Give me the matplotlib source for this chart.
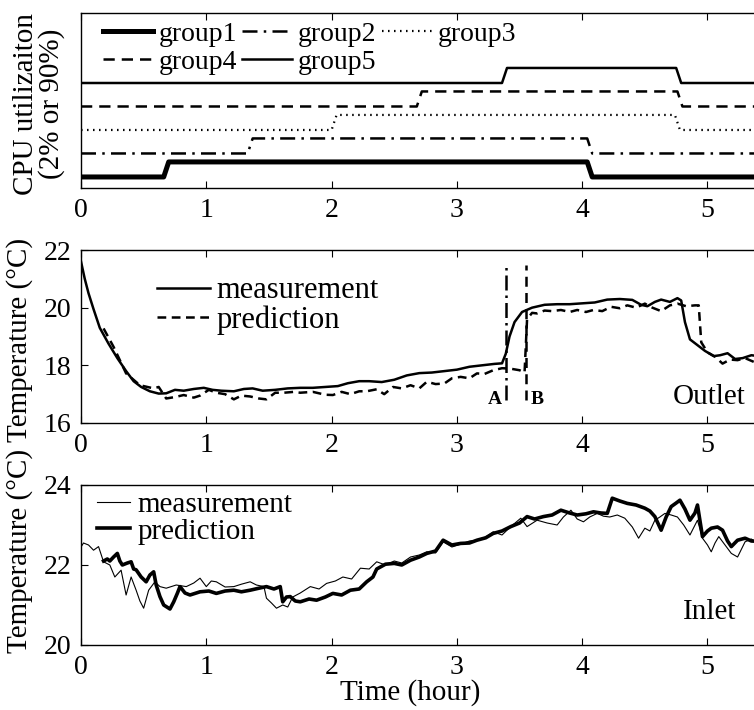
import matplotlib
matplotlib.use("Agg")
import matplotlib.pyplot as plt
import numpy as np

plt.rcParams['font.family'] = ['Liberation Serif', 'DejaVu Serif']
plt.rcParams['font.size'] = 20
plt.rcParams['mathtext.fontset'] = 'stix'

# ---------------- data ----------------
groups = ["group1", "group2", "group3", "group4", "group5"]
util_low = 2
util_high = 90
t_up = [0.66, 1.33, 2.00, 2.68, 3.36]
t_down = [4.04, 4.04, 4.74, 4.76, 4.75]
hour_ticks = [0, 1, 2, 3, 4, 5]

outlet_meas = [(0, 21.6), (0.03, 21.0), (0.06, 20.5), (0.10, 19.95), (0.15, 19.3), (0.22, 18.75),
               (0.29, 18.25), (0.36, 17.8), (0.42, 17.45), (0.48, 17.25), (0.55, 17.1), (0.62, 17.02),
               (0.68, 17.03), (0.75, 17.15), (0.82, 17.12), (0.90, 17.18), (0.98, 17.22), (1.05, 17.15),
               (1.12, 17.12), (1.22, 17.10), (1.30, 17.18), (1.37, 17.2), (1.45, 17.12), (1.55, 17.15),
               (1.65, 17.2), (1.75, 17.22), (1.85, 17.22), (1.95, 17.25), (2.05, 17.28), (2.13, 17.38),
               (2.22, 17.45), (2.30, 17.45), (2.40, 17.42), (2.50, 17.5), (2.60, 17.65), (2.70, 17.73),
               (2.80, 17.75), (2.90, 17.8), (3.00, 17.85), (3.10, 17.95), (3.20, 18.0), (3.30, 18.05),
               (3.36, 18.07), (3.39, 18.4), (3.42, 19.0), (3.46, 19.5), (3.52, 19.85), (3.60, 20.0),
               (3.70, 20.1), (3.80, 20.12), (3.90, 20.12), (4.00, 20.15), (4.10, 20.18), (4.20, 20.28),
               (4.30, 20.3), (4.40, 20.27), (4.47, 20.1), (4.52, 20.05), (4.58, 20.2), (4.63, 20.28),
               (4.70, 20.2), (4.76, 20.33), (4.79, 20.25), (4.82, 19.5), (4.86, 18.9), (4.92, 18.7),
               (4.98, 18.5), (5.05, 18.32), (5.10, 18.35), (5.16, 18.42), (5.22, 18.22), (5.28, 18.25),
               (5.35, 18.35), (5.45, 18.3)]

outlet_pred = [(0.18, 19.28), (0.26, 18.64), (0.36, 17.72), (0.47, 17.31), (0.58, 17.2), (0.62, 17.25),
               (0.68, 16.85), (0.75, 16.9), (0.82, 16.97), (0.90, 16.88), (0.95, 16.95), (1.02, 17.15),
               (1.08, 17.05), (1.15, 17.0), (1.22, 16.82), (1.28, 16.95), (1.35, 16.92), (1.42, 16.85),
               (1.48, 16.82), (1.55, 17.05), (1.62, 17.05), (1.70, 17.08), (1.75, 17.05), (1.85, 17.08),
               (1.95, 16.98), (2.01, 16.97), (2.08, 17.08), (2.15, 17.0), (2.22, 17.1), (2.28, 17.1),
               (2.36, 17.17), (2.42, 17.0), (2.49, 17.25), (2.56, 17.2), (2.63, 17.31), (2.70, 17.2),
               (2.76, 17.43), (2.83, 17.35), (2.90, 17.37), (2.96, 17.55), (3.03, 17.6), (3.10, 17.55),
               (3.16, 17.72), (3.22, 17.7), (3.29, 17.83), (3.36, 17.9), (3.42, 17.89), (3.50, 17.83),
               (3.54, 17.75), (3.56, 19.6), (3.60, 19.82), (3.64, 19.8), (3.70, 19.9), (3.76, 19.88),
               (3.83, 19.92), (3.90, 19.85), (3.96, 19.92), (4.03, 19.85), (4.09, 19.92), (4.16, 19.88),
               (4.23, 20.03), (4.30, 19.98), (4.36, 20.08), (4.43, 20.0), (4.50, 20.14), (4.56, 20.0),
               (4.63, 19.88), (4.70, 20.08), (4.76, 20.14), (4.83, 20.05), (4.90, 20.08), (4.93, 20.08),
               (4.95, 18.8), (5.00, 18.45), (5.06, 18.3), (5.12, 18.06), (5.18, 18.2), (5.24, 18.18),
               (5.30, 18.25), (5.38, 18.1), (5.45, 18.2)]

event_times = [3.39, 3.55]
event_labels = ["A", "B"]

inlet_meas = [(0, 22.45), (0.02, 22.55), (0.06, 22.5), (0.10, 22.37), (0.14, 22.46), (0.18, 22.08),
              (0.23, 22.0), (0.27, 21.7), (0.32, 21.87), (0.36, 21.25), (0.40, 21.7), (0.44, 21.37),
              (0.47, 21.1), (0.50, 20.92), (0.54, 21.37), (0.59, 21.58), (0.63, 21.46), (0.68, 21.42),
              (0.76, 21.5), (0.84, 21.46), (0.90, 21.55), (0.95, 21.67), (1.00, 21.46), (1.04, 21.6),
              (1.08, 21.58), (1.15, 21.45), (1.22, 21.46), (1.28, 21.52), (1.35, 21.58), (1.40, 21.5),
              (1.46, 21.46), (1.48, 21.17), (1.52, 21.05), (1.56, 20.92), (1.61, 21.0), (1.65, 20.95),
              (1.69, 21.2), (1.75, 21.3), (1.83, 21.46), (1.90, 21.4), (1.96, 21.54), (2.03, 21.6),
              (2.09, 21.7), (2.16, 21.65), (2.23, 21.92), (2.30, 21.9), (2.36, 22.08), (2.43, 22.0),
              (2.50, 22.1), (2.56, 22.05), (2.63, 22.2), (2.70, 22.25), (2.76, 22.33), (2.83, 22.3),
              (2.89, 22.58), (2.96, 22.45), (3.03, 22.52), (3.10, 22.6), (3.16, 22.62), (3.23, 22.7),
              (3.29, 22.83), (3.36, 22.75), (3.43, 22.96), (3.51, 23.17), (3.56, 22.96), (3.64, 23.12),
              (3.72, 23.05), (3.80, 23.0), (3.85, 23.2), (3.91, 23.37), (3.96, 23.15), (4.01, 23.08),
              (4.06, 23.2), (4.12, 23.29), (4.17, 23.22), (4.22, 23.2), (4.28, 23.25), (4.34, 23.17),
              (4.40, 22.95), (4.45, 22.67), (4.50, 22.92), (4.54, 22.85), (4.58, 23.12), (4.62, 23.2),
              (4.66, 23.29), (4.71, 23.25), (4.76, 23.2), (4.81, 23.0), (4.86, 22.75), (4.92, 23.12),
              (4.96, 22.67), (5.00, 22.5), (5.03, 22.33), (5.06, 22.55), (5.09, 22.71), (5.14, 22.5),
              (5.19, 22.29), (5.24, 22.2), (5.30, 22.58), (5.35, 22.65), (5.42, 22.5)]

inlet_pred = [(0.18, 22.1), (0.21, 22.15), (0.23, 22.1), (0.26, 22.2), (0.29, 22.29), (0.31, 22.1),
              (0.33, 22.0), (0.37, 22.05), (0.40, 22.08), (0.42, 21.9), (0.44, 21.88), (0.48, 21.7),
              (0.52, 21.58), (0.55, 21.75), (0.58, 21.83), (0.60, 21.5), (0.63, 21.21), (0.66, 21.0),
              (0.68, 20.96), (0.71, 20.9), (0.74, 21.08), (0.77, 21.3), (0.79, 21.46), (0.83, 21.3),
              (0.87, 21.25), (0.95, 21.33), (1.02, 21.35), (1.08, 21.29), (1.15, 21.35), (1.22, 21.37),
              (1.28, 21.33), (1.35, 21.37), (1.42, 21.42), (1.48, 21.46), (1.54, 21.4), (1.59, 21.46),
              (1.61, 21.08), (1.64, 21.2), (1.67, 21.21), (1.71, 21.1), (1.75, 21.08), (1.82, 21.15),
              (1.88, 21.12), (1.95, 21.2), (2.01, 21.29), (2.08, 21.25), (2.15, 21.37), (2.22, 21.4),
              (2.28, 21.58), (2.33, 21.7), (2.36, 21.9), (2.43, 22.02), (2.50, 22.04), (2.56, 22.0),
              (2.63, 22.12), (2.70, 22.2), (2.76, 22.29), (2.83, 22.35), (2.89, 22.62), (2.96, 22.5),
              (3.03, 22.54), (3.10, 22.55), (3.16, 22.62), (3.23, 22.68), (3.29, 22.79), (3.36, 22.85),
              (3.43, 22.96), (3.50, 23.05), (3.56, 23.21), (3.62, 23.15), (3.69, 23.21), (3.76, 23.25),
              (3.83, 23.37), (3.90, 23.3), (3.96, 23.25), (4.03, 23.28), (4.09, 23.33), (4.15, 23.3),
              (4.20, 23.29), (4.24, 23.67), (4.30, 23.6), (4.36, 23.54), (4.43, 23.5), (4.50, 23.42),
              (4.54, 23.35), (4.58, 23.21), (4.63, 22.87), (4.67, 23.2), (4.71, 23.46), (4.75, 23.55),
              (4.78, 23.62), (4.82, 23.4), (4.86, 23.12), (4.90, 23.3), (4.92, 23.5), (4.96, 22.71),
              (5.00, 22.85), (5.03, 22.92), (5.08, 22.95), (5.12, 22.87), (5.16, 22.6), (5.19, 22.46),
              (5.24, 22.62), (5.30, 22.67), (5.35, 22.6), (5.42, 22.59)]

# ---------------- figure ----------------
W, H = 754, 710
fig = plt.figure(figsize=(W / 100, H / 100), dpi=100)

x0 = 81 / W
xw = 6 * 125.3 / W

def place(top_px, bot_px):
    return [x0, 1 - bot_px / H, xw, (bot_px - top_px) / H]

ax1 = fig.add_axes(place(13, 188))
ax2 = fig.add_axes(place(250, 423))
ax3 = fig.add_axes(place(485, 645))

for ax in (ax1, ax2, ax3):
    ax.set_xlim(0, 6)
    ax.set_xticks(hour_ticks)
    ax.tick_params(direction='in', top=True, right=True, length=5, width=0.8, pad=7,
                   labelsize=20)
    for s in ax.spines.values():
        s.set_linewidth(1.0)

# ----- top panel -----
styles = [dict(ls='-', lw=3.6), dict(ls=(0, (6, 2.5, 1, 2.5)), lw=1.8),
          dict(ls=(0, (0.7, 2.0)), lw=1.6), dict(ls=(0, (4.5, 2.8)), lw=1.8),
          dict(ls='-', lw=1.8)]
ramp = 0.04
scale = 0.64 / (util_high - util_low)
handles = {}
for i, g in enumerate(groups):
    ts = [0, t_up[i], t_up[i] + ramp, t_down[i], t_down[i] + ramp, 6]
    us = [util_low, util_low, util_high, util_high, util_low, util_low]
    ys = [i + (u - util_low) * scale for u in us]
    ln, = ax1.plot(ts, ys, color='black', label=g, **styles[i])
    handles[g] = ln
ax1.set_ylim(-0.47, 6.98)
ax1.set_yticks([])
order = ["group1", "group4", "group2", "group5", "group3"]
ax1.legend([handles[g] for g in order], order, ncol=3, loc='upper left',
           bbox_to_anchor=(0.003, 1.063), frameon=False, handlelength=1.8,
           handletextpad=0.2, columnspacing=0.2, labelspacing=0.08, borderpad=0.2,
           fontsize=20)
ax1.set_ylabel('CPU utilizaiton\n(2% or 90%)', fontsize=21, linespacing=0.95)
ax1.yaxis.set_label_coords(-0.0213, 0.48)

# ----- middle panel -----
tm, vm = zip(*outlet_meas)
tp, vp = zip(*outlet_pred)
ax2.plot(tm, vm, color='black', lw=1.8, label='measurement')
ax2.plot(tp, vp, color='black', lw=1.8, ls=(0, (3.5, 2.2)), label='prediction')
ax2.plot([event_times[0]] * 2, [16.8, 21.48], color='black', lw=1.8, ls=(0, (6, 2, 1, 2)))
ax2.plot([event_times[1]] * 2, [16.8, 21.48], color='black', lw=1.8, ls=(0, (4, 2.5)))
ax2.text(event_times[0] - 0.03, 16.83, event_labels[0], ha='right', va='center',
         fontsize=14, fontweight='bold')
ax2.text(event_times[1] + 0.04, 16.83, event_labels[1], ha='left', va='center',
         fontsize=14, fontweight='bold')
ax2.text(4.72, 16.9, 'Outlet', ha='left', va='center', fontsize=21)
ax2.set_ylim(16, 22)
ax2.set_yticks([16, 18, 20, 22])
ax2.legend(loc='upper left', bbox_to_anchor=(0.072, 0.972), frameon=False,
           handlelength=1.75, handletextpad=0.2, labelspacing=0.0, borderpad=0.2,
           fontsize=22)
ax2.set_ylabel('Temperature (°C)', fontsize=21)
ax2.yaxis.set_label_coords(-0.0638, 0.48)

# ----- bottom panel -----
tm, vm = zip(*inlet_meas)
tp, vp = zip(*inlet_pred)
ax3.plot(tm, vm, color='black', lw=0.8, label='measurement')
ax3.plot(tp, vp, color='black', lw=2.6, label='prediction')
ax3.text(4.80, 20.83, 'Inlet', ha='left', va='center', fontsize=21)
ax3.set_ylim(20, 24)
ax3.set_yticks([20, 22, 24])
ax3.legend(loc='upper left', bbox_to_anchor=(-0.006, 1.085), frameon=False,
           handlelength=1.15, handletextpad=0.25, labelspacing=0.0, borderpad=0.2,
           fontsize=21)
ax3.set_ylabel('Temperature (°C)', fontsize=21)
ax3.yaxis.set_label_coords(-0.0638, 0.59)
ax3.set_xlabel('Time (hour)', fontsize=21, labelpad=0)
ax3.xaxis.set_label_coords(0.4376, -0.215)

fig.savefig('out.png', dpi=100)
